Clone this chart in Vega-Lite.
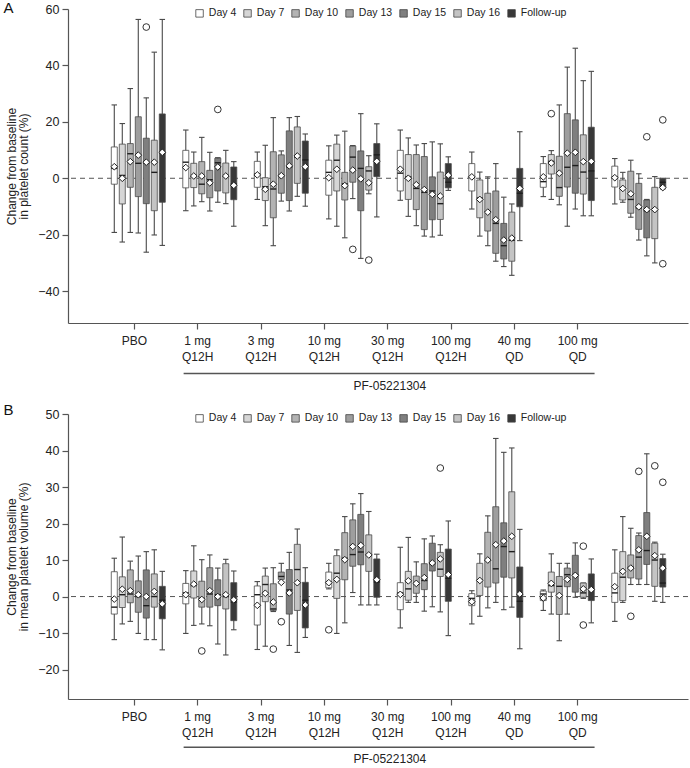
{
"$schema": "https://vega.github.io/schema/vega-lite/v6.json",
"padding": {"left": 3, "top": 1, "right": 0, "bottom": 0},
"spacing": 11,
"config": {
  "font": "Liberation Sans",
  "view": {"stroke": null},
  "axis": {"grid": false, "labelColor": "#222", "titleColor": "#222", "domainColor": "#555", "tickColor": "#555", "domainWidth": 1.2, "tickWidth": 1.2, "labelFontSize": 12.5, "titleFontSize": 12, "titleFontWeight": "normal"},
  "title": {"fontWeight": "normal", "fontSize": 15, "color": "#111", "anchor": "start", "frame": "group", "baseline": "middle"}
},
"resolve": {"scale": {"fill": "independent"}, "legend": {"fill": "independent"}},
"datasets": {
"plateletBox": [
{"group":"PBO","day":"Day 4","lo":-19.2,"q1":-2.1,"med":3.5,"q3":11.1,"hi":26.0,"mean":4.1},
{"group":"PBO","day":"Day 7","lo":-22.6,"q1":-9.1,"med":1.0,"q3":12.1,"hi":19.4,"mean":0.0},
{"group":"PBO","day":"Day 10","lo":-19.2,"q1":-3.2,"med":8.7,"q3":12.3,"hi":31.8,"mean":5.9},
{"group":"PBO","day":"Day 13","lo":-19.4,"q1":-6.5,"med":5.3,"q3":21.8,"hi":56.3,"mean":8.2},
{"group":"PBO","day":"Day 15","lo":-26.2,"q1":-9.0,"med":5.3,"q3":14.2,"hi":28.5,"mean":5.7},
{"group":"PBO","day":"Day 16","lo":-20.1,"q1":-11.5,"med":2.1,"q3":13.5,"hi":44.7,"mean":5.7},
{"group":"PBO","day":"Follow-up","lo":-23.8,"q1":-8.5,"med":8.9,"q3":22.8,"hi":56.3,"mean":9.2},
{"group":"1 mg Q12H","day":"Day 4","lo":-11.5,"q1":-3.4,"med":5.7,"q3":9.9,"hi":17.1,"mean":3.8},
{"group":"1 mg Q12H","day":"Day 7","lo":-9.8,"q1":-3.3,"med":1.0,"q3":5.3,"hi":9.3,"mean":0.8},
{"group":"1 mg Q12H","day":"Day 10","lo":-8.3,"q1":-5.5,"med":-2.1,"q3":5.9,"hi":14.5,"mean":0.8},
{"group":"1 mg Q12H","day":"Day 13","lo":-11.6,"q1":-6.9,"med":-0.5,"q3":2.8,"hi":9.2,"mean":-1.6},
{"group":"1 mg Q12H","day":"Day 15","lo":-8.5,"q1":-4.5,"med":5.5,"q3":7.1,"hi":7.3,"mean":4.0},
{"group":"1 mg Q12H","day":"Day 16","lo":-9.0,"q1":-5.2,"med":1.0,"q3":5.4,"hi":9.9,"mean":0.8},
{"group":"1 mg Q12H","day":"Follow-up","lo":-17.0,"q1":-7.6,"med":-2.0,"q3":4.0,"hi":5.9,"mean":-2.5},
{"group":"3 mg Q12H","day":"Day 4","lo":-7.5,"q1":-3.2,"med":1.5,"q3":6.0,"hi":9.3,"mean":1.2},
{"group":"3 mg Q12H","day":"Day 7","lo":-16.8,"q1":-7.9,"med":-3.0,"q3":0.2,"hi":11.7,"mean":-3.9},
{"group":"3 mg Q12H","day":"Day 10","lo":-23.9,"q1":-14.0,"med":-3.8,"q3":9.4,"hi":21.5,"mean":-2.1},
{"group":"3 mg Q12H","day":"Day 13","lo":-8.1,"q1":-5.3,"med":1.0,"q3":8.3,"hi":9.7,"mean":0.9},
{"group":"3 mg Q12H","day":"Day 15","lo":-11.6,"q1":-7.9,"med":4.0,"q3":16.8,"hi":21.5,"mean":4.4},
{"group":"3 mg Q12H","day":"Day 16","lo":-6.4,"q1":-1.8,"med":7.5,"q3":18.2,"hi":21.9,"mean":7.9},
{"group":"3 mg Q12H","day":"Follow-up","lo":-9.9,"q1":-5.3,"med":6.5,"q3":13.2,"hi":15.7,"mean":4.1},
{"group":"10 mg Q12H","day":"Day 4","lo":-14.4,"q1":-6.0,"med":2.1,"q3":6.4,"hi":11.5,"mean":0.2},
{"group":"10 mg Q12H","day":"Day 7","lo":-17.0,"q1":-4.5,"med":6.4,"q3":12.1,"hi":15.3,"mean":3.2},
{"group":"10 mg Q12H","day":"Day 10","lo":-21.1,"q1":-7.7,"med":-2.0,"q3":2.1,"hi":16.7,"mean":-2.6},
{"group":"10 mg Q12H","day":"Day 13","lo":-7.2,"q1":-1.4,"med":7.5,"q3":11.4,"hi":11.6,"mean":2.9},
{"group":"10 mg Q12H","day":"Day 15","lo":-28.4,"q1":-11.5,"med":3.5,"q3":9.7,"hi":22.9,"mean":-0.2},
{"group":"10 mg Q12H","day":"Day 16","lo":-5.5,"q1":-4.2,"med":2.6,"q3":4.1,"hi":8.0,"mean":-1.6},
{"group":"10 mg Q12H","day":"Follow-up","lo":-13.7,"q1":0.6,"med":8.3,"q3":12.3,"hi":19.3,"mean":6.0},
{"group":"30 mg Q12H","day":"Day 4","lo":-7.8,"q1":-4.5,"med":1.8,"q3":9.9,"hi":17.1,"mean":3.2},
{"group":"30 mg Q12H","day":"Day 7","lo":-13.5,"q1":-7.5,"med":0.5,"q3":8.4,"hi":14.3,"mean":0.0},
{"group":"30 mg Q12H","day":"Day 10","lo":-16.8,"q1":-11.1,"med":-3.6,"q3":8.4,"hi":11.8,"mean":-2.3},
{"group":"30 mg Q12H","day":"Day 13","lo":-20.5,"q1":-18.2,"med":-5.0,"q3":7.7,"hi":12.3,"mean":-4.0},
{"group":"30 mg Q12H","day":"Day 15","lo":-20.8,"q1":-14.7,"med":-4.5,"q3":0.5,"hi":12.9,"mean":-5.7},
{"group":"30 mg Q12H","day":"Day 16","lo":-20.2,"q1":-14.6,"med":-9.0,"q3":2.2,"hi":12.2,"mean":-6.3},
{"group":"30 mg Q12H","day":"Follow-up","lo":-4.3,"q1":-3.4,"med":-1.4,"q3":5.2,"hi":7.6,"mean":1.1},
{"group":"100 mg Q12H","day":"Day 4","lo":-10.9,"q1":-4.5,"med":0.5,"q3":5.2,"hi":9.3,"mean":0.5},
{"group":"100 mg Q12H","day":"Day 7","lo":-20.5,"q1":-14.0,"med":-7.0,"q3":-0.6,"hi":2.2,"mean":-7.5},
{"group":"100 mg Q12H","day":"Day 10","lo":-23.9,"q1":-18.7,"med":-12.0,"q3":-5.3,"hi":0.5,"mean":-12.0},
{"group":"100 mg Q12H","day":"Day 13","lo":-29.4,"q1":-26.6,"med":-16.0,"q3":-4.5,"hi":5.2,"mean":-14.7},
{"group":"100 mg Q12H","day":"Day 15","lo":-31.3,"q1":-28.6,"med":-23.9,"q3":-16.0,"hi":-6.7,"mean":-21.9},
{"group":"100 mg Q12H","day":"Day 16","lo":-34.4,"q1":-29.4,"med":-22.0,"q3":-12.0,"hi":-9.1,"mean":-21.2},
{"group":"100 mg Q12H","day":"Follow-up","lo":-22.1,"q1":-10.1,"med":-5.3,"q3":3.5,"hi":16.5,"mean":-3.6},
{"group":"40 mg QD","day":"Day 4","lo":-6.5,"q1":-3.2,"med":-1.2,"q3":5.2,"hi":7.7,"mean":0.5},
{"group":"40 mg QD","day":"Day 7","lo":-7.5,"q1":1.5,"med":6.0,"q3":8.4,"hi":9.8,"mean":5.4},
{"group":"40 mg QD","day":"Day 10","lo":-9.4,"q1":-6.4,"med":-3.3,"q3":7.8,"hi":26.0,"mean":1.8},
{"group":"40 mg QD","day":"Day 13","lo":-17.0,"q1":-3.1,"med":3.9,"q3":22.9,"hi":39.4,"mean":8.9},
{"group":"40 mg QD","day":"Day 15","lo":-10.9,"q1":-5.3,"med":4.5,"q3":20.7,"hi":46.1,"mean":9.2},
{"group":"40 mg QD","day":"Day 16","lo":-13.3,"q1":-5.6,"med":2.2,"q3":15.4,"hi":34.6,"mean":5.9},
{"group":"40 mg QD","day":"Follow-up","lo":-13.3,"q1":-7.9,"med":2.6,"q3":18.1,"hi":37.9,"mean":6.0},
{"group":"100 mg QD","day":"Day 4","lo":-9.1,"q1":-3.1,"med":0.5,"q3":4.3,"hi":7.0,"mean":0.2},
{"group":"100 mg QD","day":"Day 7","lo":-8.5,"q1":-7.7,"med":-3.5,"q3":-0.6,"hi":2.1,"mean":-3.6},
{"group":"100 mg QD","day":"Day 10","lo":-13.8,"q1":-12.4,"med":-7.5,"q3":2.5,"hi":6.4,"mean":-5.5},
{"group":"100 mg QD","day":"Day 13","lo":-21.9,"q1":-18.1,"med":-10.5,"q3":-1.8,"hi":1.6,"mean":-10.1},
{"group":"100 mg QD","day":"Day 15","lo":-27.5,"q1":-21.1,"med":-11.5,"q3":-7.7,"hi":-7.5,"mean":-11.1},
{"group":"100 mg QD","day":"Day 16","lo":-30.0,"q1":-21.4,"med":-11.0,"q3":-3.2,"hi":0.6,"mean":-11.1},
{"group":"100 mg QD","day":"Follow-up","lo":-3.8,"q1":-3.4,"med":-1.4,"q3":-0.2,"hi":0.0,"mean":-3.3}
],
"plateletOut": [
{"group":"PBO","day":"Day 15","value":53.6},
{"group":"1 mg Q12H","day":"Day 15","value":24.4},
{"group":"10 mg Q12H","day":"Day 13","value":-25.2},
{"group":"10 mg Q12H","day":"Day 16","value":-29.0},
{"group":"40 mg QD","day":"Day 7","value":22.9},
{"group":"100 mg QD","day":"Day 15","value":14.7},
{"group":"100 mg QD","day":"Follow-up","value":20.7},
{"group":"100 mg QD","day":"Follow-up","value":-30.3}
],
"mpvBox": [
{"group":"PBO","day":"Day 4","lo":-11.8,"q1":-4.8,"med":-2.9,"q3":6.8,"hi":10.5,"mean":-0.7},
{"group":"PBO","day":"Day 7","lo":-7.5,"q1":-3.0,"med":0.5,"q3":5.4,"hi":16.3,"mean":2.0},
{"group":"PBO","day":"Day 10","lo":-6.8,"q1":-1.7,"med":0.7,"q3":7.3,"hi":9.7,"mean":1.6},
{"group":"PBO","day":"Day 13","lo":-10.1,"q1":-4.3,"med":0.0,"q3":4.3,"hi":11.1,"mean":0.5},
{"group":"PBO","day":"Day 15","lo":-11.8,"q1":-5.9,"med":-2.5,"q3":7.3,"hi":12.3,"mean":0.0},
{"group":"PBO","day":"Day 16","lo":-11.8,"q1":-2.9,"med":0.0,"q3":6.2,"hi":12.8,"mean":1.4},
{"group":"PBO","day":"Follow-up","lo":-14.6,"q1":-6.1,"med":-1.0,"q3":2.8,"hi":6.9,"mean":-2.0},
{"group":"1 mg Q12H","day":"Day 4","lo":-10.1,"q1":-2.0,"med":1.0,"q3":3.6,"hi":7.1,"mean":0.5},
{"group":"1 mg Q12H","day":"Day 7","lo":-7.9,"q1":-0.4,"med":3.0,"q3":7.0,"hi":13.9,"mean":3.4},
{"group":"1 mg Q12H","day":"Day 10","lo":-7.5,"q1":-2.9,"med":-0.5,"q3":4.2,"hi":10.1,"mean":-0.8},
{"group":"1 mg Q12H","day":"Day 13","lo":-8.0,"q1":-2.9,"med":0.7,"q3":7.9,"hi":11.4,"mean":1.6},
{"group":"1 mg Q12H","day":"Day 15","lo":-13.0,"q1":-2.5,"med":0.5,"q3":4.6,"hi":7.8,"mean":0.0},
{"group":"1 mg Q12H","day":"Day 16","lo":-16.0,"q1":-3.4,"med":0.0,"q3":9.0,"hi":10.2,"mean":0.5},
{"group":"1 mg Q12H","day":"Follow-up","lo":-9.1,"q1":-6.6,"med":-1.5,"q3":3.8,"hi":7.0,"mean":-0.9},
{"group":"3 mg Q12H","day":"Day 4","lo":-14.5,"q1":-7.8,"med":0.5,"q3":2.9,"hi":4.1,"mean":-2.4},
{"group":"3 mg Q12H","day":"Day 7","lo":-13.6,"q1":-1.4,"med":3.3,"q3":5.6,"hi":7.8,"mean":0.9},
{"group":"3 mg Q12H","day":"Day 10","lo":-4.1,"q1":-3.8,"med":-3.4,"q3":3.5,"hi":7.9,"mean":-1.5},
{"group":"3 mg Q12H","day":"Day 13","lo":3.6,"q1":4.7,"med":5.5,"q3":6.7,"hi":9.1,"mean":3.9},
{"group":"3 mg Q12H","day":"Day 15","lo":-13.4,"q1":-4.8,"med":1.8,"q3":7.4,"hi":12.1,"mean":1.0},
{"group":"3 mg Q12H","day":"Day 16","lo":-15.3,"q1":-3.8,"med":7.4,"q3":14.3,"hi":18.5,"mean":3.8},
{"group":"3 mg Q12H","day":"Follow-up","lo":-11.2,"q1":-8.6,"med":-1.0,"q3":3.9,"hi":7.9,"mean":-2.3},
{"group":"10 mg Q12H","day":"Day 4","lo":2.1,"q1":2.4,"med":4.0,"q3":6.7,"hi":9.1,"mean":3.8},
{"group":"10 mg Q12H","day":"Day 7","lo":-10.1,"q1":-0.5,"med":6.4,"q3":11.2,"hi":12.8,"mean":4.7},
{"group":"10 mg Q12H","day":"Day 10","lo":-7.2,"q1":4.6,"med":10.5,"q3":17.5,"hi":21.9,"mean":10.1},
{"group":"10 mg Q12H","day":"Day 13","lo":1.1,"q1":8.3,"med":11.5,"q3":21.0,"hi":25.4,"mean":13.7},
{"group":"10 mg Q12H","day":"Day 15","lo":-2.3,"q1":8.7,"med":12.2,"q3":22.5,"hi":28.2,"mean":14.0},
{"group":"10 mg Q12H","day":"Day 16","lo":-2.3,"q1":6.9,"med":11.5,"q3":16.9,"hi":23.3,"mean":11.4},
{"group":"10 mg Q12H","day":"Follow-up","lo":-2.3,"q1":-0.2,"med":4.0,"q3":10.3,"hi":11.6,"mean":4.6},
{"group":"30 mg Q12H","day":"Day 4","lo":-8.6,"q1":-3.6,"med":1.0,"q3":3.8,"hi":13.5,"mean":0.6},
{"group":"30 mg Q12H","day":"Day 7","lo":-1.6,"q1":-1.0,"med":2.1,"q3":6.9,"hi":16.2,"mean":4.3},
{"group":"30 mg Q12H","day":"Day 10","lo":-1.6,"q1":0.9,"med":3.5,"q3":5.6,"hi":9.5,"mean":3.6},
{"group":"30 mg Q12H","day":"Day 13","lo":-4.0,"q1":1.9,"med":4.4,"q3":9.0,"hi":15.8,"mean":5.2},
{"group":"30 mg Q12H","day":"Day 15","lo":-2.8,"q1":7.0,"med":9.0,"q3":14.6,"hi":16.6,"mean":9.2},
{"group":"30 mg Q12H","day":"Day 16","lo":-4.2,"q1":5.5,"med":7.5,"q3":12.1,"hi":14.2,"mean":10.3},
{"group":"30 mg Q12H","day":"Follow-up","lo":-10.7,"q1":-1.3,"med":5.0,"q3":13.0,"hi":20.7,"mean":6.0},
{"group":"100 mg Q12H","day":"Day 4","lo":-7.5,"q1":-2.5,"med":-0.5,"q3":0.8,"hi":1.6,"mean":-1.4},
{"group":"100 mg Q12H","day":"Day 7","lo":-5.4,"q1":0.3,"med":4.5,"q3":9.1,"hi":11.7,"mean":4.4},
{"group":"100 mg Q12H","day":"Day 10","lo":-3.1,"q1":2.6,"med":10.0,"q3":17.6,"hi":22.1,"mean":10.0},
{"group":"100 mg Q12H","day":"Day 13","lo":-1.6,"q1":3.7,"med":7.6,"q3":24.6,"hi":43.3,"mean":14.2},
{"group":"100 mg Q12H","day":"Day 15","lo":-3.6,"q1":5.3,"med":13.7,"q3":20.2,"hi":39.5,"mean":15.2},
{"group":"100 mg Q12H","day":"Day 16","lo":-2.9,"q1":5.1,"med":12.3,"q3":28.7,"hi":40.7,"mean":16.5},
{"group":"100 mg Q12H","day":"Follow-up","lo":-14.3,"q1":-5.7,"med":-1.3,"q3":8.1,"hi":18.4,"mean":0.7},
{"group":"40 mg QD","day":"Day 4","lo":-3.8,"q1":-1.1,"med":0.7,"q3":1.5,"hi":1.8,"mean":-0.4},
{"group":"40 mg QD","day":"Day 7","lo":-4.8,"q1":1.2,"med":3.0,"q3":6.7,"hi":11.7,"mean":3.6},
{"group":"40 mg QD","day":"Day 10","lo":-12.1,"q1":-4.9,"med":2.8,"q3":5.5,"hi":9.1,"mean":0.3},
{"group":"40 mg QD","day":"Day 13","lo":-4.8,"q1":2.7,"med":6.0,"q3":7.8,"hi":9.1,"mean":4.7},
{"group":"40 mg QD","day":"Day 15","lo":-0.2,"q1":1.2,"med":6.0,"q3":11.3,"hi":14.7,"mean":5.8},
{"group":"40 mg QD","day":"Day 16","lo":-0.5,"q1":-0.2,"med":1.0,"q3":3.7,"hi":3.7,"mean":2.1},
{"group":"40 mg QD","day":"Follow-up","lo":-7.2,"q1":-1.1,"med":2.0,"q3":6.2,"hi":10.3,"mean":1.9},
{"group":"100 mg QD","day":"Day 4","lo":-6.8,"q1":-1.6,"med":1.0,"q3":6.4,"hi":12.8,"mean":2.7},
{"group":"100 mg QD","day":"Day 7","lo":-1.6,"q1":-1.1,"med":5.3,"q3":12.3,"hi":21.9,"mean":6.9},
{"group":"100 mg QD","day":"Day 10","lo":3.3,"q1":5.1,"med":8.0,"q3":11.4,"hi":18.7,"mean":7.8},
{"group":"100 mg QD","day":"Day 13","lo":3.3,"q1":4.8,"med":10.8,"q3":16.7,"hi":17.4,"mean":12.8},
{"group":"100 mg QD","day":"Day 15","lo":3.3,"q1":8.8,"med":12.6,"q3":23.0,"hi":39.1,"mean":16.5},
{"group":"100 mg QD","day":"Day 16","lo":-1.3,"q1":2.8,"med":10.0,"q3":14.6,"hi":14.9,"mean":11.2},
{"group":"100 mg QD","day":"Follow-up","lo":-1.6,"q1":2.6,"med":3.7,"q3":10.4,"hi":11.6,"mean":7.8}
],
"mpvOut": [
{"group":"1 mg Q12H","day":"Day 10","value":-14.9},
{"group":"3 mg Q12H","day":"Day 10","value":-14.4},
{"group":"3 mg Q12H","day":"Day 13","value":-6.9},
{"group":"10 mg Q12H","day":"Day 4","value":-9.1},
{"group":"30 mg Q12H","day":"Day 16","value":35.2},
{"group":"40 mg QD","day":"Day 16","value":13.8},
{"group":"40 mg QD","day":"Day 16","value":-7.8},
{"group":"100 mg QD","day":"Day 10","value":-5.4},
{"group":"100 mg QD","day":"Day 13","value":34.3},
{"group":"100 mg QD","day":"Day 16","value":35.8},
{"group":"100 mg QD","day":"Follow-up","value":31.3}
],
"bracket": [{"from": "1 mg Q12H", "to": "100 mg QD"}]
},
"vconcat": [
{
  "title": {"text": "A", "dx": -64.4, "offset": -13.4},
  "width": 620, "height": 314,
  "resolve": {"scale": {"x": "independent"}},
  "layer": [
    {
      "data": {"values": [{}]},
      "mark": {"type": "rule", "color": "#555", "strokeWidth": 1, "strokeDash": [5, 4]},
      "encoding": {
        "y": {"datum": 0, "type": "quantitative", "scale": {"domain": [-51.3, 60], "nice": false, "zero": false},
          "axis": {"values": [-40, -30, -20, -10, 0, 10, 20, 30, 40, 50, 60], "tickSize": 6, "labelPadding": 3, "title": ["Change from baseline", "in platelet count (%)"], "titlePadding": 7, "titleLineHeight": 12}}
      }
    },
    {
      "data": {"name": "plateletBox"},
      "encoding": {
        "x": {"field": "group", "type": "nominal", "sort": ["PBO","1 mg Q12H","3 mg Q12H","10 mg Q12H","30 mg Q12H","100 mg Q12H","40 mg QD","100 mg QD"], "axis": null,
          "scale": {"domain": ["PBO","1 mg Q12H","3 mg Q12H","10 mg Q12H","30 mg Q12H","100 mg Q12H","40 mg QD","100 mg QD"], "paddingInner": 0.2168, "paddingOuter": 0.444, "align": 0.666}},
        "xOffset": {"field": "day", "type": "nominal", "sort": ["Day 4","Day 7","Day 10","Day 13","Day 15","Day 16","Follow-up"],
          "scale": {"domain": ["Day 4","Day 7","Day 10","Day 13","Day 15","Day 16","Follow-up"], "paddingInner": 0.25, "paddingOuter": 0.125}}
      },
      "layer": [
        {"mark": {"type": "rule", "color": "#4a4a4a", "strokeWidth": 1.1},
         "encoding": {"y": {"field": "lo", "type": "quantitative", "scale": {"domain": [-51.3, 60], "nice": false, "zero": false}}, "y2": {"field": "hi"}}},
        {"mark": {"type": "tick", "color": "#4a4a4a", "size": 5.5, "thickness": 1.1, "opacity": 1},
         "encoding": {"y": {"field": "lo", "type": "quantitative"}}},
        {"mark": {"type": "tick", "color": "#4a4a4a", "size": 5.5, "thickness": 1.1, "opacity": 1},
         "encoding": {"y": {"field": "hi", "type": "quantitative"}}},
        {"mark": {"type": "bar", "stroke": "#4a4a4a", "strokeWidth": 0.8, "opacity": 1},
         "encoding": {
           "y": {"field": "q1", "type": "quantitative"}, "y2": {"field": "q3"},
           "fill": {"field": "day", "type": "nominal",
             "scale": {"domain": ["Day 4","Day 7","Day 10","Day 13","Day 15","Day 16","Follow-up"], "range": ["#ffffff","#d6d6d6","#b3b3b3","#9e9e9e","#7f7f7f","#c4c4c4","#383838"]},
             "legend": {"orient": "none", "legendX": 126.3, "legendY": -1, "direction": "horizontal", "title": null, "symbolType": "square", "symbolSize": 56, "symbolStrokeColor": "#444", "symbolStrokeWidth": 0.8, "symbolOpacity": 1, "labelFontSize": 10.5, "labelColor": "#222", "labelOffset": 4, "columnPadding": 5, "padding": 0}}
         }},
        {"mark": {"type": "tick", "color": "#1e1e1e", "size": 6, "thickness": 1.4, "opacity": 1},
         "encoding": {"y": {"field": "med", "type": "quantitative"}}},
        {"mark": {"type": "point", "shape": "diamond", "filled": true, "fill": "#ffffff", "stroke": "#1e1e1e", "strokeWidth": 1, "size": 45, "opacity": 1},
         "encoding": {"y": {"field": "mean", "type": "quantitative"}}},
        {"data": {"name": "plateletOut"},
         "mark": {"type": "point", "shape": "circle", "filled": true, "fill": "#ffffff", "stroke": "#333", "strokeWidth": 1, "size": 45, "opacity": 1},
         "encoding": {"y": {"field": "value", "type": "quantitative"}}}
      ]
    },
    {
      "data": {"name": "plateletBox"},
      "layer": [
        {"mark": {"type": "tick", "opacity": 0},
         "encoding": {
           "x": {"field": "group", "type": "nominal", "sort": ["PBO","1 mg Q12H","3 mg Q12H","10 mg Q12H","30 mg Q12H","100 mg Q12H","40 mg QD","100 mg QD"],
             "scale": {"domain": ["PBO","1 mg Q12H","3 mg Q12H","10 mg Q12H","30 mg Q12H","100 mg Q12H","40 mg QD","100 mg QD"], "paddingInner": 0, "paddingOuter": 0.895, "align": 0.306},
             "axis": {"labelAngle": 0, "tickSize": 6, "labelPadding": 6, "labelFontSize": 12, "labelLineHeight": 16,
               "labelExpr": "length(split(datum.value, ' ')) > 1 ? [split(datum.value, ' ')[0] + ' ' + split(datum.value, ' ')[1], split(datum.value, ' ')[2]] : datum.value",
               "title": "PF-05221304", "titleFontSize": 12, "titleX": 321.3, "titleY": 62, "titleBaseline": "middle"}}
         }},
        {"data": {"name": "bracket"},
         "mark": {"type": "rule", "color": "#555", "strokeWidth": 1.5},
         "encoding": {
           "x": {"field": "from", "type": "nominal", "bandPosition": 0.278},
           "x2": {"field": "to", "bandPosition": 0.767},
           "y": {"datum": -69.2, "type": "quantitative"}
         }}
      ]
    }
  ]
},
{
  "title": {"text": "B", "dx": -64.4, "offset": -9.5},
  "width": 620, "height": 285,
  "resolve": {"scale": {"x": "independent"}},
  "layer": [
    {
      "data": {"values": [{}]},
      "mark": {"type": "rule", "color": "#555", "strokeWidth": 1, "strokeDash": [5, 4]},
      "encoding": {
        "y": {"datum": 0, "type": "quantitative", "scale": {"domain": [-28.06, 50], "nice": false, "zero": false},
          "axis": {"values": [-20, -10, 0, 10, 20, 30, 40, 50], "tickSize": 6, "labelPadding": 3, "title": ["Change from baseline", "in mean platelet volume (%)"], "titlePadding": 7, "titleLineHeight": 12}}
      }
    },
    {
      "data": {"name": "mpvBox"},
      "encoding": {
        "x": {"field": "group", "type": "nominal", "sort": ["PBO","1 mg Q12H","3 mg Q12H","10 mg Q12H","30 mg Q12H","100 mg Q12H","40 mg QD","100 mg QD"], "axis": null,
          "scale": {"domain": ["PBO","1 mg Q12H","3 mg Q12H","10 mg Q12H","30 mg Q12H","100 mg Q12H","40 mg QD","100 mg QD"], "paddingInner": 0.2168, "paddingOuter": 0.444, "align": 0.666}},
        "xOffset": {"field": "day", "type": "nominal", "sort": ["Day 4","Day 7","Day 10","Day 13","Day 15","Day 16","Follow-up"],
          "scale": {"domain": ["Day 4","Day 7","Day 10","Day 13","Day 15","Day 16","Follow-up"], "paddingInner": 0.25, "paddingOuter": 0.125}}
      },
      "layer": [
        {"mark": {"type": "rule", "color": "#4a4a4a", "strokeWidth": 1.1},
         "encoding": {"y": {"field": "lo", "type": "quantitative", "scale": {"domain": [-28.06, 50], "nice": false, "zero": false}}, "y2": {"field": "hi"}}},
        {"mark": {"type": "tick", "color": "#4a4a4a", "size": 5.5, "thickness": 1.1, "opacity": 1},
         "encoding": {"y": {"field": "lo", "type": "quantitative"}}},
        {"mark": {"type": "tick", "color": "#4a4a4a", "size": 5.5, "thickness": 1.1, "opacity": 1},
         "encoding": {"y": {"field": "hi", "type": "quantitative"}}},
        {"mark": {"type": "bar", "stroke": "#4a4a4a", "strokeWidth": 0.8, "opacity": 1},
         "encoding": {
           "y": {"field": "q1", "type": "quantitative"}, "y2": {"field": "q3"},
           "fill": {"field": "day", "type": "nominal",
             "scale": {"domain": ["Day 4","Day 7","Day 10","Day 13","Day 15","Day 16","Follow-up"], "range": ["#ffffff","#d6d6d6","#b3b3b3","#9e9e9e","#7f7f7f","#c4c4c4","#383838"]},
             "legend": {"orient": "none", "legendX": 126.3, "legendY": -1, "direction": "horizontal", "title": null, "symbolType": "square", "symbolSize": 56, "symbolStrokeColor": "#444", "symbolStrokeWidth": 0.8, "symbolOpacity": 1, "labelFontSize": 10.5, "labelColor": "#222", "labelOffset": 4, "columnPadding": 5, "padding": 0}}
         }},
        {"mark": {"type": "tick", "color": "#1e1e1e", "size": 6, "thickness": 1.4, "opacity": 1},
         "encoding": {"y": {"field": "med", "type": "quantitative"}}},
        {"mark": {"type": "point", "shape": "diamond", "filled": true, "fill": "#ffffff", "stroke": "#1e1e1e", "strokeWidth": 1, "size": 45, "opacity": 1},
         "encoding": {"y": {"field": "mean", "type": "quantitative"}}},
        {"data": {"name": "mpvOut"},
         "mark": {"type": "point", "shape": "circle", "filled": true, "fill": "#ffffff", "stroke": "#333", "strokeWidth": 1, "size": 45, "opacity": 1},
         "encoding": {"y": {"field": "value", "type": "quantitative"}}}
      ]
    },
    {
      "data": {"name": "mpvBox"},
      "layer": [
        {"mark": {"type": "tick", "opacity": 0},
         "encoding": {
           "x": {"field": "group", "type": "nominal", "sort": ["PBO","1 mg Q12H","3 mg Q12H","10 mg Q12H","30 mg Q12H","100 mg Q12H","40 mg QD","100 mg QD"],
             "scale": {"domain": ["PBO","1 mg Q12H","3 mg Q12H","10 mg Q12H","30 mg Q12H","100 mg Q12H","40 mg QD","100 mg QD"], "paddingInner": 0, "paddingOuter": 0.895, "align": 0.306},
             "axis": {"labelAngle": 0, "tickSize": 6, "labelPadding": 6, "labelFontSize": 12, "labelLineHeight": 16,
               "labelExpr": "length(split(datum.value, ' ')) > 1 ? [split(datum.value, ' ')[0] + ' ' + split(datum.value, ' ')[1], split(datum.value, ' ')[2]] : datum.value",
               "title": "PF-05221304", "titleFontSize": 12, "titleX": 321.3, "titleY": 59.5, "titleBaseline": "middle"}}
         }},
        {"data": {"name": "bracket"},
         "mark": {"type": "rule", "color": "#555", "strokeWidth": 1.5},
         "encoding": {
           "x": {"field": "from", "type": "nominal", "bandPosition": 0.278},
           "x2": {"field": "to", "bandPosition": 0.767},
           "y": {"datum": -41.3, "type": "quantitative"}
         }}
      ]
    }
  ]
}
]
}
